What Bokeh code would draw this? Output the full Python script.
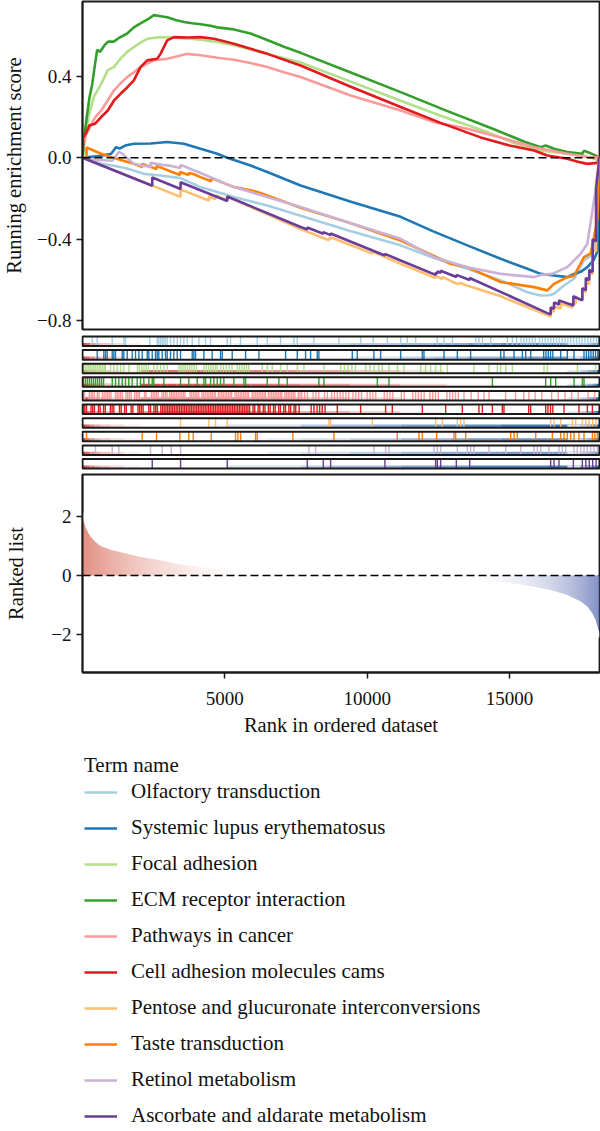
import numpy as np
from bokeh.plotting import figure
from bokeh.layouts import column
from bokeh.models import Range1d, FixedTicker, Span, Legend, LegendItem, ColumnDataSource
from bokeh.embed import file_html
from bokeh.resources import INLINE

N_GENES = 18160
FONT = "Liberation Serif"

term_names = ["Olfactory transduction", "Systemic lupus erythematosus", "Focal adhesion",
              "ECM receptor interaction", "Pathways in cancer", "Cell adhesion molecules cams",
              "Pentose and glucuronate interconversions", "Taste transduction",
              "Retinol metabolism", "Ascorbate and aldarate metabolism"]
term_colors = ["#a6cee3", "#1f78b4", "#b2df8a", "#33a02c", "#fb9a99", "#e31a1c",
               "#fdbf6f", "#ff7f00", "#cab2d6", "#6a3d9a"]

# ---- running enrichment score (rank, ES) ----
olfactory_rank = [0, 300, 655, 1044, 1500, 2155, 2740, 3444, 4146, 5318, 6490, 7661, 9400, 11175, 12300,
                  13518, 14689, 15626, 16094, 16400, 16562, 16913, 17265, 17616, 17850, 18050, 18120, 18160]
olfactory_es = [0, -0.01, -0.03, -0.038, -0.05, -0.079, -0.087, -0.1, -0.144, -0.193, -0.234, -0.285, -0.36,
                -0.43, -0.49, -0.545, -0.602, -0.66, -0.676, -0.675, -0.668, -0.627, -0.594, -0.504, -0.48,
                -0.406, -0.2, 0]

lupus_rank = [0, 300, 655, 1007, 1183, 1300, 1500, 1804, 2389, 2975, 3561, 4146, 4732, 5084, 5904, 6490,
              7661, 9400, 11175, 12300, 13518, 14689, 15626, 16094, 16562, 17030, 17265, 17499, 17733, 17967,
              18110, 18150, 18160]
lupus_es = [0, 0.005, 0.01, 0.02, 0.052, 0.045, 0.06, 0.069, 0.07, 0.077, 0.069, 0.044, 0.02, 0.0, -0.038,
            -0.07, -0.136, -0.215, -0.29, -0.36, -0.43, -0.496, -0.545, -0.57, -0.578, -0.586, -0.57, -0.56,
            -0.537, -0.5, -0.45, -0.1, 0]

focal_rank = [0, 100, 210, 400, 655, 890, 1101, 1335, 1570, 1804, 2038, 2272, 2740, 3209, 3678, 4146, 4732,
              5318, 6490, 7661, 9400, 11175, 12700, 14220, 15200, 16094, 17030, 17600, 18085, 18160]
focal_es = [0, 0.10, 0.20, 0.30, 0.363, 0.43, 0.445, 0.486, 0.52, 0.543, 0.565, 0.584, 0.592, 0.589, 0.585,
            0.579, 0.568, 0.552, 0.51, 0.468, 0.375, 0.28, 0.2, 0.126, 0.07, 0.036, 0.02, 0.01, -0.01, 0]

ecm_rank = [0, 60, 150, 250, 340, 430, 516, 620, 760, 900, 1101, 1300, 1570, 1804, 2038, 2300, 2506, 2750,
            2975, 3300, 3561, 3850, 4146, 4500, 4732, 5318, 5904, 6490, 7075, 7661, 9400, 11175, 12800,
            14454, 15500, 16094, 16270, 16562, 17030, 17560, 17616, 17800, 18085, 18160]
ecm_es = [0, 0.10, 0.20, 0.30, 0.36, 0.45, 0.53, 0.52, 0.55, 0.57, 0.57, 0.59, 0.61, 0.64, 0.66, 0.68, 0.70,
          0.695, 0.69, 0.675, 0.666, 0.66, 0.655, 0.648, 0.64, 0.63, 0.61, 0.578, 0.545, 0.515, 0.42, 0.322,
          0.23, 0.14, 0.08, 0.052, 0.06, 0.044, 0.028, 0.02, 0.035, 0.025, 0.007, 0]

pathways_rank = [0, 30, 150, 300, 450, 655, 880, 1101, 1335, 1570, 1804, 2038, 2506, 2975, 3444, 3678, 4146,
                 4732, 5318, 5900, 6490, 7075, 7661, 9418, 11175, 12346, 13518, 14689, 15860, 17030, 17700,
                 18160]
pathways_es = [0, 0.08, 0.12, 0.16, 0.2, 0.232, 0.28, 0.33, 0.365, 0.396, 0.42, 0.445, 0.478, 0.486, 0.502,
               0.51, 0.503, 0.491, 0.481, 0.465, 0.445, 0.42, 0.396, 0.306, 0.232, 0.175, 0.142, 0.1, 0.052,
               0.02, 0.005, 0]

cams_rank = [0, 20, 100, 250, 445, 655, 890, 1101, 1335, 1570, 1804, 2038, 2272, 2623, 2740, 2975, 3209,
             3700, 4146, 4615, 5318, 6490, 7661, 9400, 11175, 12600, 13985, 15000, 15860, 16328, 17030, 17400,
             17733, 18085, 18160]
cams_es = [0, 0.10, 0.115, 0.16, 0.167, 0.2, 0.232, 0.28, 0.314, 0.345, 0.38, 0.445, 0.478, 0.486, 0.51,
           0.576, 0.592, 0.59, 0.592, 0.584, 0.56, 0.51, 0.453, 0.35, 0.249, 0.17, 0.1, 0.06, 0.036, 0.011,
           -0.005, -0.02, -0.03, -0.025, 0]

pentose_rank = [0, 3444, 3444, 4439, 4439, 4673, 4673, 5084, 5084, 7661, 8655, 8655, 8715, 8715, 10180,
                10180, 11175, 12404, 12404, 12640, 12640, 13166, 13283, 13400, 14689, 16387, 16446, 16446,
                16562, 16562, 16797, 16797, 17208, 17208, 17324, 17324, 17560, 17560, 17680, 17680, 17800,
                17800, 17920, 17920, 18040, 18040, 18160]
pentose_es = [0, -0.192, -0.155, -0.21, -0.19, -0.203, -0.185, -0.207, -0.19, -0.35, -0.405, -0.395, -0.4,
              -0.39, -0.47, -0.46, -0.52, -0.59, -0.58, -0.595, -0.585, -0.62, -0.615, -0.622, -0.68, -0.776,
              -0.78, -0.75, -0.755, -0.73, -0.74, -0.715, -0.735, -0.71, -0.715, -0.69, -0.70, -0.65, -0.66,
              -0.61, -0.62, -0.56, -0.57, -0.45, -0.46, -0.12, 0]

taste_rank = [0, 141, 141, 655, 1200, 1804, 2098, 2098, 2600, 2600, 3420, 3420, 3735, 3735, 3890, 4146,
              4522, 4522, 5318, 5552, 6139, 6490, 7661, 9400, 11175, 12932, 13518, 14689, 15860, 16328, 16562,
              17030, 17265, 17616, 17850, 17967, 18085, 18140, 18160]
taste_es = [0, -0.005, 0.05, 0.02, -0.005, -0.03, -0.045, -0.03, -0.055, -0.04, -0.085, -0.07, -0.085,
            -0.075, -0.08, -0.095, -0.115, -0.1, -0.144, -0.15, -0.168, -0.185, -0.245, -0.32, -0.406, -0.52,
            -0.537, -0.61, -0.635, -0.651, -0.619, -0.586, -0.58, -0.488, -0.47, -0.39, -0.3, -0.1, 0]

retinol_rank = [0, 457, 1044, 1276, 1400, 1804, 2390, 2390, 2800, 3117, 3444, 3444, 4146, 5318, 6490, 7661,
                9400, 11175, 12346, 13518, 14689, 15860, 16094, 16500, 17030, 17499, 17733, 17967, 18085, 18160]
retinol_es = [0, -0.01, -0.015, 0.028, 0.02, -0.03, -0.045, -0.025, -0.035, -0.04, -0.05, -0.035, -0.075,
              -0.144, -0.193, -0.242, -0.32, -0.398, -0.488, -0.537, -0.57, -0.586, -0.575, -0.57, -0.537,
              -0.471, -0.422, -0.21, -0.11, 0]

ascorbate_rank = [0, 2450, 2450, 3444, 3444, 5084, 5084, 7661, 7896, 7896, 8458, 8458, 8715, 8715, 10623,
                  10623, 11175, 12404, 12404, 12463, 12463, 12580, 12580, 13131, 13131, 13600, 13600, 16387,
                  16445, 16445, 16562, 16562, 16738, 16738, 17242, 17242, 17557, 17557, 17680, 17680, 17800,
                  17800, 17920, 17920, 18040, 18040, 18160]
ascorbate_es = [0, -0.137, -0.097, -0.153, -0.12, -0.212, -0.19, -0.34, -0.352, -0.342, -0.373, -0.365,
                -0.38, -0.372, -0.48, -0.472, -0.504, -0.575, -0.565, -0.568, -0.558, -0.565, -0.555, -0.585,
                -0.575, -0.6, -0.59, -0.766, -0.768, -0.735, -0.74, -0.71, -0.72, -0.70, -0.725, -0.68, -0.70,
                -0.64, -0.65, -0.59, -0.6, -0.55, -0.56, -0.40, -0.41, -0.15, 0]

# ---- gene-set hit positions (rank) ----
hits_olfactory = [341, 517, 1044, 1452, 1511, 2365, 2625, 2681, 2741, 2799, 2857, 2916, 2976, 3092, 3209, 3327,
                  3444, 3561, 3678, 3854, 4087, 4322, 4497, 5084, 5200, 5552, 6139, 6490, 6957, 7426, 7544, 8128,
                  9006, 9769, 10215, 10707, 11175, 11410, 11702, 12464, 12697, 12993, 13810, 13926, 14045,
                  14337, 14924, 15100, 15250, 15400, 15500, 15600, 15700, 15800, 15900, 16050, 16150, 16250,
                  16350, 16450, 16550, 16650, 16750, 16850, 16950, 17050, 17150, 17250, 17350, 17450, 17550,
                  17650, 17750, 17850, 17950, 18050, 18120]
hits_lupus = [517, 749, 808, 867, 1044, 1100, 1159, 1395, 1452, 1571, 1746, 1862, 1981, 2098, 2274, 2330, 2449,
              2565, 2625, 2681, 2799, 2916, 2976, 3092, 3209, 3327, 3444, 3854, 3911, 3970, 4263, 4555, 4849,
              4908, 5259, 5728, 6196, 7133, 7544, 7836, 8012, 8247, 8304, 9477, 9652, 10236, 10472, 11175,
              11937, 11995, 12697, 13166, 13634, 14689, 14805, 15157, 15451, 15568, 15743, 16200, 16280, 16360,
              16440, 16520, 16797, 17030, 17265, 17616, 17700, 17780, 17860, 17940, 18020, 18100]
hits_focal = [40, 100, 160, 220, 280, 340, 400, 460, 520, 580, 640, 700, 760, 800, 984, 1100, 1219, 1335, 1452,
              1627, 1930, 2000, 2080, 2160, 2240, 2320, 2506, 2625, 2741, 2857, 2976, 3390, 3460, 3530, 3600,
              3680, 3760, 3840, 3920, 4000, 4270, 4350, 4430, 4510, 4590, 4670, 4730, 4850, 4950, 5050, 5150,
              5250, 5440, 5520, 5600, 5680, 5760, 5840, 6315, 6490, 6666, 6957, 7192, 7544, 7777, 8480, 9070,
              9200, 9330, 9460, 9590, 9950, 10100, 10250, 10400, 10530, 10765, 11058, 11292, 11878, 12053,
              12229, 12404, 12580, 12815, 13751, 14279, 14572, 14689, 14865, 15100, 16211, 16329, 17383, 18026]
hits_ecm = [40, 110, 180, 250, 320, 390, 460, 530, 600, 670, 740, 1044, 1160, 1276, 1395, 1511, 1627, 1746,
            1922, 2038, 2154, 2330, 2449, 2506, 2857, 3444, 3735, 4030, 4263, 4322, 4498, 4614, 4733, 4849,
            4965, 5317, 5668, 5728, 6490, 6898, 7192, 8304, 8480, 10356, 10765, 14397, 16270, 16446, 16621,
            17265, 17560, 17616]
hits_pathways = [20, 70, 240, 300, 360, 420, 520, 580, 700, 760, 820, 880, 940, 1000, 1160, 1220, 1280, 1340,
                 1400, 1530, 1590, 1650, 1710, 1830, 1890, 1950, 2000, 2180, 2230, 2420, 2480, 2540, 2600, 2660,
                 2790, 2850, 2910, 2970, 3060, 3120, 3180, 3240, 3300, 3360, 3420, 3480, 3540, 3600, 3780, 3840,
                 3900, 3960, 4020, 4080, 4200, 4260, 4320, 4380, 4440, 4500, 4560, 4620, 4670, 4770, 4830, 4890,
                 4950, 5010, 5070, 5130, 5190, 5240, 5360, 5420, 5480, 5540, 5600, 5660, 5720, 5780, 5830, 5960,
                 6020, 6080, 6140, 6200, 6260, 6320, 6380, 6430, 6530, 6590, 6650, 6710, 6770, 6830, 6890, 6950,
                 7000, 7110, 7170, 7230, 7290, 7350, 7410, 7460, 7580, 7640, 7700, 7800, 7900, 8100, 8200, 8300,
                 8500, 8600, 8750, 8850, 8950, 9050, 9150, 9250, 9350, 9500, 9600, 9700, 9800, 10000, 10100,
                 10200, 10300, 10600, 10700, 10800, 10900, 11200, 11300, 11600, 11700, 11800, 11900, 12000,
                 12200, 12300, 12400, 12500, 12800, 12900, 13000, 13100, 13200, 13400, 13650, 13900, 14100,
                 14280, 14860, 15210, 15500, 15680, 15900, 16130, 16480, 16710, 16950, 17180, 17410, 17760,
                 17990]
hits_cams = [20, 80, 140, 300, 360, 420, 560, 620, 740, 800, 980, 1040, 1100, 1300, 1360, 1480, 1540, 1710,
             1770, 1950, 2010, 2070, 2130, 2330, 2390, 2510, 2570, 2630, 2750, 2810, 2870, 2930, 2990, 3050,
             3110, 3170, 3230, 3290, 3350, 3410, 3470, 3530, 3590, 3650, 3710, 3770, 3830, 3890, 3950, 4010,
             4070, 4130, 4190, 4250, 4310, 4370, 4430, 4490, 4550, 4610, 4670, 4730, 4790, 4850, 4910, 4970,
             5030, 5090, 5150, 5210, 5270, 5330, 5390, 5450, 5510, 5570, 5630, 5690, 5750, 5810, 5870, 5990,
             6050, 6170, 6230, 6350, 6410, 6530, 6590, 6710, 6770, 6890, 6950, 7070, 7130, 7250, 7310, 7430,
             7490, 7610, 8030, 8130, 8240, 8330, 8420, 8520, 8950, 9769, 10647, 10882, 11937, 12756, 13342,
             13926, 14045, 14397, 14748, 14805, 15672, 15743, 16270, 16350, 16440, 16520, 16914, 17440, 17733,
             17910]
hits_pentose = [3444, 4439, 4673, 5084, 8655, 8715, 10180, 12404, 12640, 13166, 13283, 13400, 16446, 16562,
                16797, 17208, 17324, 17560, 17680, 17800, 17920, 18040]
hits_taste = [141, 2098, 2600, 3420, 3735, 3890, 4522, 5376, 5458, 5552, 6079, 6139, 7390, 8831, 11058, 11819,
              11937, 12440, 13048, 13107, 13458, 15040, 15157, 15275, 15920, 16505, 16797, 16914, 17030, 17148,
              17265, 17440, 17616, 17910, 18000, 18085]
hits_retinol = [457, 1044, 1276, 2390, 2800, 3117, 3444, 7952, 8188, 10236, 10647, 10765, 12345, 12463, 12580,
                13166, 13517, 13634, 13751, 14279, 14864, 15392, 15860, 15977, 16094, 16387, 16738, 16855,
                16972, 17265, 17380, 17500, 17616, 17733, 17850, 17967, 18085]
hits_ascorbate = [2450, 3444, 5084, 7896, 8458, 8715, 10623, 12404, 12463, 12580, 13131, 13600, 16445, 16562,
                  16738, 17242, 17557, 17680, 17800, 17920, 18040]

# ---- ranked list metric ----
ranked_rank = [0, 47, 105, 187, 281, 457, 632, 984, 1452, 2038, 2740, 3444, 4146, 5000, 6000, 7000, 8000,
               9000, 9800, 10500, 11175, 12300, 13517, 14000, 14689, 15300, 15860, 16446, 17030, 17499, 17733,
               17909, 18026, 18108, 18160]
ranked_metric = [1.98, 1.81, 1.64, 1.47, 1.32, 1.13, 1.0, 0.87, 0.76, 0.62, 0.51, 0.37, 0.28, 0.19, 0.12,
                 0.07, 0.03, 0.01, 0.0, -0.02, -0.05, -0.08, -0.12, -0.16, -0.22, -0.3, -0.38, -0.49, -0.66,
                 -0.88, -1.05, -1.28, -1.52, -1.8, -1.95]

es_ticks = [-0.8, -0.4, 0.0, 0.4]
es_tick_labels = ["\u22120.8", "\u22120.4", "0.0", "0.4"]
rank_ticks = [-2, 0, 2]
rank_tick_labels = ["\u22122", "0", "2"]
x_ticks = [5000, 10000, 15000]

es_ranks = [olfactory_rank, lupus_rank, focal_rank, ecm_rank, pathways_rank, cams_rank, pentose_rank,
            taste_rank, retinol_rank, ascorbate_rank]
es_values = [olfactory_es, lupus_es, focal_es, ecm_es, pathways_es, cams_es, pentose_es, taste_es,
             retinol_es, ascorbate_es]
hit_lists = [hits_olfactory, hits_lupus, hits_focal, hits_ecm, hits_pathways, hits_cams, hits_pentose,
             hits_taste, hits_retinol, hits_ascorbate]

# ---- styling helpers ----
FRAME = "#1a1a1a"
FRAME_W_PX = 517
px_rank = N_GENES / FRAME_W_PX
RED = (210, 80, 60)
BLUE = (60, 80, 165)
BAND_RED = (205, 45, 45)
BAND_BLUE = (40, 100, 175)


def blend(base, t):
    t = max(0.0, min(1.0, t))
    return "#%02x%02x%02x" % tuple(int(round(255 + (c - 255) * t)) for c in base)


def style_fig(p):
    p.grid.visible = False
    p.outline_line_color = FRAME
    p.outline_line_width = 1.8
    p.background_fill_color = "white"
    p.border_fill_color = "white"
    p.frame_align = False


def style_axis(ax, size="19px"):
    ax.axis_line_color = FRAME
    ax.axis_line_width = 1.8
    ax.major_tick_line_color = FRAME
    ax.major_tick_line_width = 1.5
    ax.major_tick_out = 6
    ax.major_tick_in = 0
    ax.minor_tick_line_color = None
    ax.major_label_text_font = FONT
    ax.major_label_text_font_size = size
    ax.major_label_text_color = "#111111"
    ax.axis_label_text_font = FONT
    ax.axis_label_text_font_size = "20.5px"
    ax.axis_label_text_font_style = "normal"
    ax.axis_label_text_color = "#111111"


# ---- panel 1: running enrichment score ----
p_es = figure(width=600, height=332, x_range=Range1d(0, N_GENES), y_range=Range1d(-0.843, 0.767),
              output_backend="svg", toolbar_location=None, min_border_left=82, min_border_right=1,
              min_border_top=1, min_border_bottom=3)
style_fig(p_es)
p_es.xaxis.visible = False
style_axis(p_es.yaxis[0])
p_es.yaxis.ticker = FixedTicker(ticks=es_ticks)
p_es.yaxis.major_label_overrides = dict(zip(es_ticks, es_tick_labels))
p_es.yaxis.axis_label = "Running enrichment score"
p_es.yaxis.axis_label_standoff = 9
p_es.yaxis.major_label_standoff = 5

for k in range(len(term_names)):
    p_es.line(es_ranks[k], es_values[k], line_color=term_colors[k], line_width=2.6)
p_es.add_layout(Span(location=0, dimension="width", line_color="black", line_dash="8 4", line_width=1.5))

# ---- panel 2: hit strips ----
p_hits = figure(width=600, height=140, x_range=Range1d(-px_rank, N_GENES + px_rank),
                y_range=Range1d(9.637, -0.642), output_backend="svg", toolbar_location=None,
                min_border_left=81, min_border_right=0, min_border_top=0, min_border_bottom=0)
p_hits.grid.visible = False
p_hits.axis.visible = False
p_hits.outline_line_color = None
p_hits.background_fill_color = "white"
p_hits.frame_align = False

for k in range(len(term_names)):
    xr, yv = es_ranks[k], es_values[k]
    left, right, cols = [], [], []
    for j in range(len(xr) - 1):
        if xr[j + 1] <= xr[j]:
            continue
        m = 0.5 * (yv[j] + yv[j + 1])
        t = (abs(m) - 0.15) / 0.5 * 0.75
        if t <= 0:
            continue
        left.append(xr[j]); right.append(xr[j + 1])
        cols.append(blend(BAND_RED if m > 0 else BAND_BLUE, t))
    for j in range(len(ranked_rank) - 1):
        m = 0.5 * (ranked_metric[j] + ranked_metric[j + 1])
        t = (abs(m) - 0.6) / 1.0 * 0.85
        if t <= 0:
            continue
        left.append(ranked_rank[j]); right.append(ranked_rank[j + 1])
        cols.append(blend(BAND_RED if m > 0 else BAND_BLUE, t))
    p_hits.quad(left=left, right=right, top=[k + 0.12] * len(left), bottom=[k + 0.31] * len(left),
                fill_color=cols, line_color=None)
    h = hit_lists[k]
    p_hits.segment(x0=h, x1=h, y0=[k - 0.34] * len(h), y1=[k + 0.34] * len(h),
                   line_color=term_colors[k], line_width=1.4)

strip_src = ColumnDataSource(dict(y=list(range(len(term_names)))))
p_hits.rect(x=N_GENES / 2, y="y", width=N_GENES, height=0.70, source=strip_src,
            fill_color=None, line_color=FRAME, line_width=2)

# ---- panel 3: ranked list ----
p_rank = figure(width=600, height=268, x_range=p_es.x_range, y_range=Range1d(-3.29, 3.42),
                output_backend="svg", toolbar_location=None, min_border_left=82, min_border_right=1,
                min_border_top=2, min_border_bottom=68)
style_fig(p_rank)
style_axis(p_rank.xaxis[0])
style_axis(p_rank.yaxis[0])
p_rank.xaxis.ticker = FixedTicker(ticks=x_ticks)
p_rank.xaxis.axis_label = "Rank in ordered dataset"
p_rank.xaxis.major_label_standoff = 13
p_rank.xaxis.axis_label_standoff = 6
p_rank.yaxis.ticker = FixedTicker(ticks=rank_ticks)
p_rank.yaxis.major_label_overrides = dict(zip(rank_ticks, rank_tick_labels))
p_rank.yaxis.axis_label = "Ranked list"
p_rank.yaxis.axis_label_standoff = 21

zero_idx = next(i for i, v in enumerate(ranked_metric) if v <= 0)
zero_x = ranked_rank[zero_idx]
top_pos = max(ranked_metric) + 0.05
bot_neg = min(ranked_metric) - 0.05
cols_x = np.arange(0, N_GENES, px_rank)
gl, gr, gt, gb, gc = [], [], [], [], []
for x in cols_x:
    if x < zero_x:
        t = 0.82 * max(0.0, 1 - x / 6500.0) ** 2
        if t > 0.004:
            gl.append(x); gr.append(x + px_rank * 1.05); gt.append(top_pos); gb.append(0); gc.append(blend(RED, t))
    else:
        t = 0.82 * max(0.0, (x - 12000.0) / (N_GENES - 12000.0)) ** 3
        if t > 0.004:
            gl.append(x); gr.append(x + px_rank * 1.05); gt.append(0); gb.append(bot_neg); gc.append(blend(BLUE, t))
p_rank.quad(left=gl, right=gr, top=gt, bottom=gb, fill_color=gc, line_color=None)

pos_x = [ranked_rank[0]] + ranked_rank[:zero_idx + 1] + [zero_x]
pos_y = [top_pos + 0.1] + ranked_metric[:zero_idx + 1] + [top_pos + 0.1]
p_rank.patch(pos_x, pos_y, fill_color="white", line_color=None)
neg_x = ranked_rank[zero_idx:] + [ranked_rank[-1], zero_x]
neg_y = ranked_metric[zero_idx:] + [bot_neg - 0.1, bot_neg - 0.1]
p_rank.patch(neg_x, neg_y, fill_color="white", line_color=None)
p_rank.add_layout(Span(location=0, dimension="width", line_color="black", line_dash="8 4", line_width=1.5))

# ---- legend ----
p_leg = figure(width=600, height=391, x_range=Range1d(0, 1), y_range=Range1d(0, 1),
               output_backend="svg", toolbar_location=None, min_border_left=84, min_border_right=0,
               min_border_top=13, min_border_bottom=0)
p_leg.grid.visible = False
p_leg.axis.visible = False
p_leg.outline_line_color = None
p_leg.frame_align = False
leg_items = []
for name, c in zip(term_names, term_colors):
    # legend-only renderer, its data lies outside the visible range
    r = p_leg.line(x=[5, 6], y=[5, 6], line_color=c, line_width=2.6)
    leg_items.append(LegendItem(label=name, renderers=[r]))
legend = Legend(items=leg_items, title="Term name", location="top_left", margin=0, padding=0,
                title_text_font=FONT, title_text_font_size="21px", title_text_font_style="normal",
                title_text_color="#111111", title_standoff=1,
                label_text_font=FONT, label_text_font_size="21px", label_text_color="#111111",
                glyph_width=33, glyph_height=20, label_height=20, spacing=11, label_standoff=14,
                border_line_color=None, background_fill_alpha=0)
p_leg.add_layout(legend)

layout = column(p_es, p_hits, p_rank, p_leg, spacing=0)
open("out.html", "w").write(file_html(layout, INLINE))
